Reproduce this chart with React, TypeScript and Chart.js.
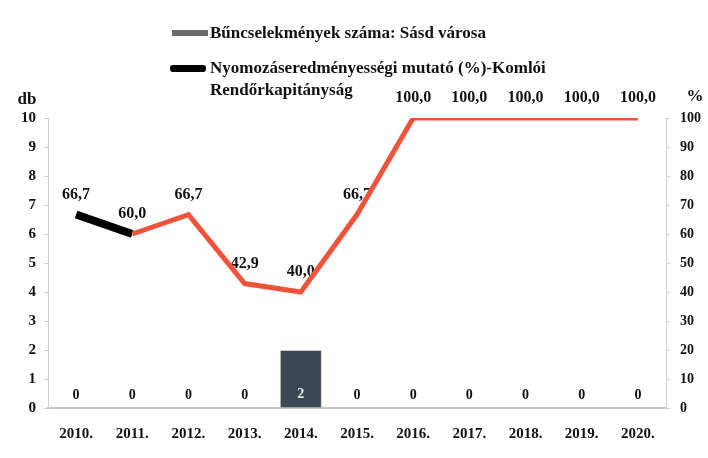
import React, { useEffect, useRef } from "react";
import { Chart, registerables } from "chart.js";

Chart.register(...registerables);

const years = ["2010.", "2011.", "2012.", "2013.", "2014.", "2015.", "2016.", "2017.", "2018.", "2019.", "2020."];
const crimeCounts = [0, 0, 0, 0, 2, 0, 0, 0, 0, 0, 0];
const clearanceRate = [66.7, 60.0, 66.7, 42.9, 40.0, 66.7, 100.0, 100.0, 100.0, 100.0, 100.0];
const leftTicks = [0, 1, 2, 3, 4, 5, 6, 7, 8, 9, 10];
const rightTicks = [0, 10, 20, 30, 40, 50, 60, 70, 80, 90, 100];

const barLabel = "Bűncselekmények száma: Sásd városa";
const lineLabelA = "Nyomozáseredményességi mutató (%)-Komlói";
const lineLabelB = "Rendőrkapitányság";

const FONT = "'Liberation Serif', 'DejaVu Serif', serif";
const fmt = (v: number) => v.toFixed(1).replace(".", ",");

const labelPlugin = {
  id: "customLabels",
  beforeDatasetsDraw(chart: any) {
    const ctx = chart.ctx;
    ctx.save();
    ctx.font = `bold 16px ${FONT}`;
    ctx.textAlign = "center";
    ctx.textBaseline = "middle";
    ctx.fillStyle = "#111";
    const lineMeta = chart.getDatasetMeta(1);
    lineMeta.data.forEach((pt: any, i: number) => {
      ctx.fillText(fmt(clearanceRate[i]), pt.x, pt.y - 20);
    });
    ctx.restore();
  },
  afterDatasetsDraw(chart: any) {
    const ctx = chart.ctx;
    ctx.save();
    ctx.font = `bold 14px ${FONT}`;
    ctx.textAlign = "center";
    ctx.textBaseline = "middle";
    const barMeta = chart.getDatasetMeta(0);
    barMeta.data.forEach((bar: any, i: number) => {
      ctx.fillStyle = crimeCounts[i] > 0 ? "#e8e8e8" : "#111";
      ctx.fillText(String(crimeCounts[i]), bar.x, bar.base - 13);
    });
    ctx.font = `bold 17px ${FONT}`;
    ctx.fillStyle = "#111";
    const ca = chart.chartArea;
    ctx.fillText("db", 27, ca.top - 18);
    ctx.fillText("%", 695, ca.top - 21);
    ctx.restore();
  },
};

export default function App() {
  const canvasRef = useRef<HTMLCanvasElement | null>(null);

  useEffect(() => {
    document.body.style.margin = "0";
    const canvas = canvasRef.current;
    if (!canvas) return;
    const chart = new Chart(canvas, {
      type: "bar",
      data: {
        labels: years,
        datasets: [
          {
            type: "bar",
            label: barLabel,
            data: crimeCounts,
            yAxisID: "y",
            backgroundColor: "#3b4753",
            borderColor: "#c8c8c8",
            borderWidth: 1,
            barPercentage: 0.75,
            categoryPercentage: 1,
            order: 2,
          },
          {
            type: "line",
            label: lineLabelA + " " + lineLabelB,
            data: clearanceRate,
            yAxisID: "y1",
            borderColor: "#f0533a",
            borderWidth: 5,
            pointRadius: 0,
            tension: 0,
            segment: {
              borderColor: (c: any) => (c.p0DataIndex === 0 ? "#000" : "#f0533a"),
              borderWidth: (c: any) => (c.p0DataIndex === 0 ? 8 : 5),
            },
            order: 1,
          } as any,
        ],
      },
      options: {
        animation: false,
        responsive: false,
        maintainAspectRatio: false,
        layout: { padding: { left: 0, right: 0, top: 118, bottom: 0 } },
        plugins: { legend: { display: false }, tooltip: { enabled: false } },
        scales: {
          x: {
            grid: { display: false },
            border: { display: true, color: "#c4c4c4", width: 2 },
            ticks: { font: { family: FONT, size: 15, weight: "bold" }, color: "#111", padding: 9 },
            afterFit: (s: any) => { s.height = 50; },
          },
          y: {
            position: "left",
            min: 0,
            max: 10,
            afterBuildTicks: (s: any) => { s.ticks = leftTicks.map((v) => ({ value: v })); },
            grid: { drawOnChartArea: false, tickLength: 4, color: "#d0d0d0" },
            border: { display: true, color: "#d0d0d0", width: 1 },
            ticks: { font: { family: FONT, size: 15, weight: "bold" }, color: "#111", padding: 8 },
            afterFit: (s: any) => { s.width = 48; },
          },
          y1: {
            position: "right",
            min: 0,
            max: 100,
            afterBuildTicks: (s: any) => { s.ticks = rightTicks.map((v) => ({ value: v })); },
            grid: { drawOnChartArea: false, tickLength: 4, color: "#d0d0d0" },
            border: { display: true, color: "#d0d0d0", width: 1 },
            ticks: { font: { family: FONT, size: 14, weight: "bold" }, color: "#111", padding: 10 },
            afterFit: (s: any) => { s.width = 42; },
          },
        },
      } as any,
      plugins: [labelPlugin],
    });
    return () => chart.destroy();
  }, []);

  const textStyle: React.CSSProperties = {
    position: "absolute",
    fontFamily: FONT,
    fontWeight: "bold",
    fontSize: 17,
    color: "#111",
    lineHeight: "22px",
    whiteSpace: "nowrap",
  };

  return (
    <div style={{ position: "relative", width: 708, height: 458, background: "#fff" }}>
      <canvas ref={canvasRef} width={708} height={458} style={{ display: "block" }} />
      <div style={{ position: "absolute", left: 172, top: 30, width: 36, height: 6, background: "#6b6b6b" }} />
      <div style={{ ...textStyle, left: 210, top: 22 }}>{barLabel}</div>
      <div style={{ position: "absolute", left: 170, top: 65, width: 36, height: 7, background: "#000", borderRadius: 3 }} />
      <div style={{ ...textStyle, left: 210, top: 57 }}>
        {lineLabelA}
        <br />
        {lineLabelB}
      </div>
    </div>
  );
}
